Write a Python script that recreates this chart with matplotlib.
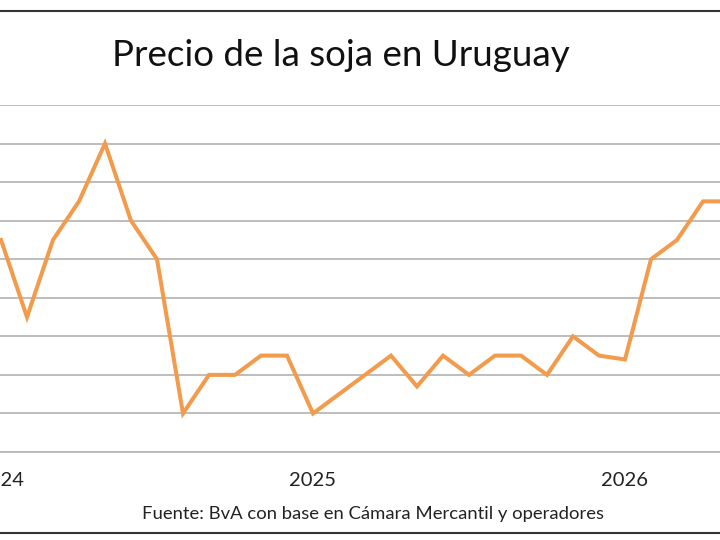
import matplotlib.pyplot as plt
from matplotlib.lines import Line2D

# monthly soybean price (index 0 = Jan 2024)
months = list(range(29))
price = [395, 375, 395, 405, 420, 400, 390, 350, 360, 360, 365, 365,
         350, 355, 360, 365, 357, 365, 360, 365, 365, 360, 370, 365,
         364, 390, 395, 405, 405]
year_ticks = [0, 12, 24]
year_labels = ['2024', '2025', '2026']
grid_levels = list(range(340, 431, 10))

plt.rcParams['font.family'] = ['Lato', 'DejaVu Sans']

fig = plt.figure(figsize=(7.2, 5.4), dpi=100)
ax = fig.add_axes([0, 88 / 540, 1, 347 / 540])

ax.plot(months, price, color='#F29B4C', lw=2.9, solid_joinstyle='miter')
ax.set_xlim(-1 / 26, 719 / 26)
ax.set_ylim(340, 430)

ax.set_yticks(grid_levels)
ax.yaxis.grid(True, color='#b8b8b8', lw=1.3)
ax.set_axisbelow(True)
ax.tick_params(left=False, labelleft=False, bottom=False)
ax.set_xticks(year_ticks)
ax.set_xticklabels(year_labels, fontsize=14.5, color='#222222')
ax.tick_params(axis='x', pad=11)
for s in ['top', 'left', 'right']:
    ax.spines[s].set_visible(False)
ax.spines['bottom'].set_color('#b8b8b8')
ax.spines['bottom'].set_linewidth(1.3)

fig.text(0.474, 0.897, 'Precio de la soja en Uruguay', ha='center', va='center',
         fontsize=26.5, color='#111111')
fig.text(0.518, 0.048, 'Fuente: BvA con base en Cámara Mercantil y operadores',
         ha='center', va='center', fontsize=13.3, color='#222222')

# frame lines above and below
fig.add_artist(Line2D([0, 1], [1 - 11 / 540, 1 - 11 / 540], color='#333333', lw=1.5))
fig.add_artist(Line2D([0, 1], [1 - 533 / 540, 1 - 533 / 540], color='#333333', lw=1.5))

fig.savefig('out.png', dpi=100)
